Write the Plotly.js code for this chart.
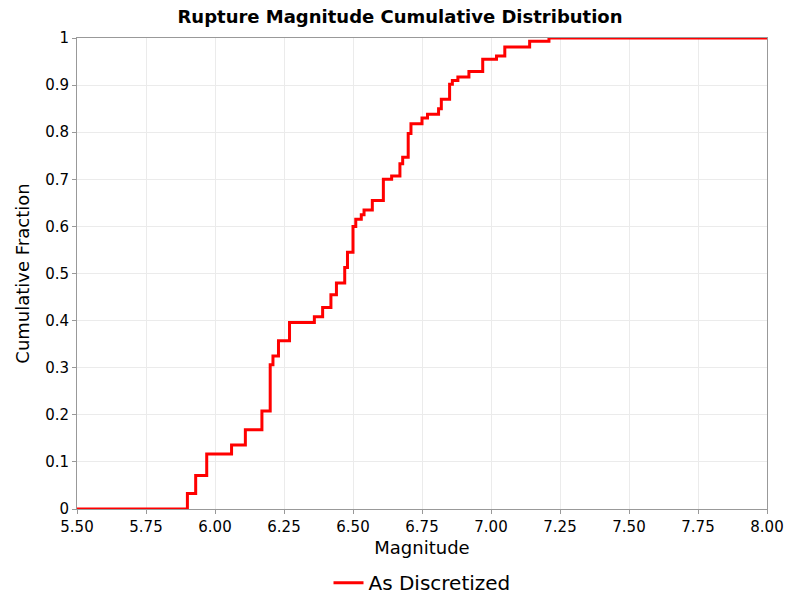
<!DOCTYPE html>
<html>
<head>
<meta charset="utf-8">
<script src="https://cdn.plot.ly/plotly-3.0.1.min.js"></script>
<style>body{margin:0}#gd{width:800px;height:600px}</style>
</head>
<body>
<div id="gd"></div>
<script>
// step points of the cumulative distribution
const magnitude = [5.50, 5.90, 5.93, 5.97, 6.06, 6.11, 6.17, 6.20, 6.21, 6.23, 6.27, 6.36, 6.39, 6.42, 6.44, 6.47, 6.48, 6.50, 6.51, 6.53, 6.54, 6.57, 6.61, 6.64, 6.67, 6.68, 6.70, 6.71, 6.75, 6.77, 6.81, 6.82, 6.85, 6.86, 6.88, 6.92, 6.97, 7.02, 7.05, 7.14, 7.21, 8.00];
const fraction = [0, 0.033, 0.071, 0.117, 0.136, 0.168, 0.208, 0.306, 0.325, 0.357, 0.396, 0.408, 0.428, 0.455, 0.48, 0.513, 0.545, 0.60, 0.615, 0.625, 0.635, 0.655, 0.70, 0.707, 0.733, 0.747, 0.797, 0.818, 0.83, 0.838, 0.85, 0.87, 0.902, 0.91, 0.917, 0.929, 0.955, 0.962, 0.981, 0.993, 1.0, 1.0];

let trace = {
    x: magnitude,
    y: fraction,
    name: 'As Discretized',
    mode: 'lines',
    line: {shape: 'hv', color: '#ff0000', width: 3}
};

let axisFont = {family: 'DejaVu Sans', size: 18, color: '#000'};
let layout = {
    width: 800, height: 600,
    font: {family: 'DejaVu Sans', color: '#000'},
    title: {text: '<b>Rupture Magnitude Cumulative Distribution</b>', font: {size: 18}, x: 0.5, y: 0.983},
    paper_bgcolor: '#fff',
    plot_bgcolor: '#fff',
    margin: {l: 77, r: 33, t: 38, b: 91, autoexpand: false},
    xaxis: {
        title: {text: 'Magnitude', font: axisFont, standoff: 6},
        range: [5.5, 8.0], dtick: 0.25, tickformat: '.2f',
        showgrid: true, gridcolor: '#ebebeb', zeroline: false,
        showline: true, linecolor: '#999', mirror: true,
        ticks: 'outside', ticklen: 4, tickcolor: '#999',
        tickfont: {size: 15}
    },
    yaxis: {
        title: {text: 'Cumulative Fraction', font: axisFont, standoff: 10},
        range: [0, 1], dtick: 0.1,
        showgrid: true, gridcolor: '#ebebeb', zeroline: false,
        showline: true, linecolor: '#999', mirror: true,
        ticks: 'outside', ticklen: 4, tickcolor: '#999',
        tickfont: {size: 15}
    },
    showlegend: true,
    legend: {orientation: 'h', x: 0.5, xanchor: 'center', y: -0.115, yanchor: 'top', font: {size: 20}}
};

Plotly.newPlot('gd', [trace], layout, {displayModeBar: false});
</script>
</body>
</html>
